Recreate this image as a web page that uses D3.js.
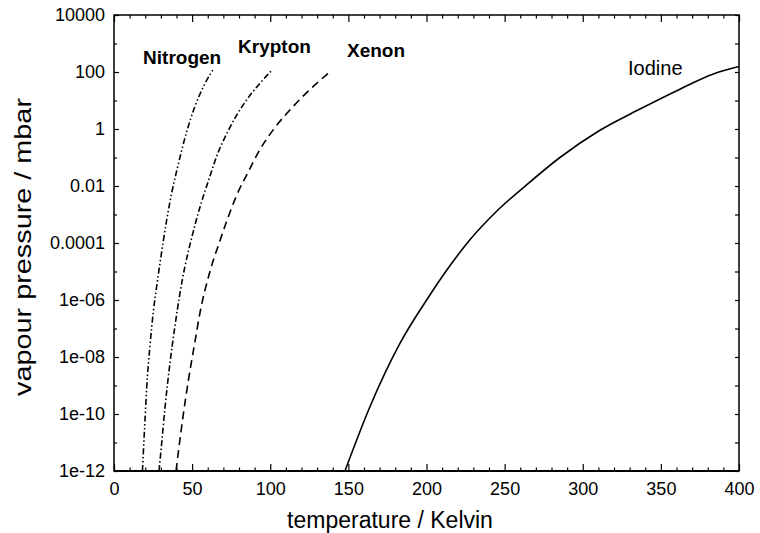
<!DOCTYPE html>
<html>
<head>
<meta charset="utf-8">
<script src="https://cdn.jsdelivr.net/npm/d3@7/dist/d3.min.js"></script>
<style>
  body { margin: 0; background: #fff; }
  text { font-family: "Liberation Sans", Arial, Helvetica, sans-serif; fill: #000; }
</style>
</head>
<body>
<svg id="chart" width="760" height="533"></svg>
<script>
// temperature (K) / vapour pressure (mbar)
const nitrogenT = [18.2, 19.8, 20.9, 23.0, 25.2, 27.3, 29.4, 33.7, 36.9, 41.2, 46.5, 51.8, 58.2, 63.6];
const nitrogenP = [1e-12, 5.6e-11, 8e-10, 2.4e-8, 4e-7, 3e-6, 1.9e-5, 6.3e-4, 5.6e-3, 6e-2, 0.8, 6.2, 39, 125];

const kryptonT = [28.8, 30.3, 32.6, 35.8, 39.0, 42.2, 45.4, 49.7, 55.0, 60.4, 65.7, 73.2, 82.8, 93.4, 101.6];
const kryptonP = [1e-12, 7e-12, 1.6e-10, 6e-9, 1.2e-7, 1.7e-6, 1.5e-5, 1.5e-4, 1.8e-3, 1.5e-2, 0.11, 0.89, 7.2, 40, 123];

const xenonT = [39.7, 41.2, 44.4, 47.6, 51.8, 55.0, 61.4, 67.8, 72.1, 78.5, 86.0, 93.4, 102.0, 114.8, 129.7, 139.3];
const xenonP = [1e-12, 4.7e-12, 1e-10, 1.5e-9, 3.4e-8, 3.5e-7, 1e-5, 1.2e-4, 5.8e-4, 4.7e-3, 3.2e-2, 0.19, 0.95, 6.3, 40, 112];

const iodineT = [147.8, 163.8, 183.0, 200.1, 212.9, 227.8, 244.9, 264.1, 285.4, 311.0, 336.6, 362.2, 383.6, 400];
const iodineP = [1e-12, 1.8e-10, 3e-8, 1e-6, 1.1e-5, 1.3e-4, 1.3e-3, 1.1e-2, 0.1, 0.9, 5, 25, 85, 155];

const seriesNames = ["Nitrogen", "Krypton", "Xenon", "Iodine"];
const labelT = [18.6, 79.4, 149.1, 329];
const labelP = [190, 470, 340, 78];

const xTicks = [0, 50, 100, 150, 200, 250, 300, 350, 400];
const yTicks = [1e4, 1e2, 1, 1e-2, 1e-4, 1e-6, 1e-8, 1e-10, 1e-12];
const yTickLabels = ["10000", "100", "1", "0.01", "0.0001", "1e-06", "1e-08", "1e-10", "1e-12"];
const yMinorTicks = [1e3, 10, 0.1, 1e-3, 1e-5, 1e-7, 1e-9, 1e-11];

const series = [
    {name: seriesNames[0], T: nitrogenT, P: nitrogenP, dash: "6,2.5,1.5,2.5,1.5,2.5", bold: true},
    {name: seriesNames[1], T: kryptonT, P: kryptonP, dash: "6,2.5,1.5,2.5", bold: true},
    {name: seriesNames[2], T: xenonT, P: xenonP, dash: "8,5", bold: true},
    {name: seriesNames[3], T: iodineT, P: iodineP, dash: null, bold: false}
];

const width = 760, height = 533;
const margin = {top: 15, right: 21, bottom: 62, left: 114};

const svg = d3.select("#chart");

const x = d3.scaleLinear()
    .domain([0, 400])
    .range([margin.left, width - margin.right]);

const y = d3.scaleLog()
    .domain([1e-12, 1e4])
    .range([height - margin.bottom, margin.top]);

const xMinor = d3.range(0, 401, 10).filter(d => d % 50 !== 0);
const yDecades = yTicks.concat(yMinorTicks);

// bottom axis, ticks pointing into the plot
svg.append("g")
    .attr("transform", `translate(0,${y(1e-12)})`)
    .call(d3.axisBottom(x).tickValues(xTicks).tickSize(-7).tickPadding(11).tickSizeOuter(0))
    .call(g => g.select(".domain").remove())
    .call(g => g.selectAll("text").style("font-size", "18px"));

svg.append("g")
    .attr("transform", `translate(0,${y(1e-12)})`)
    .call(d3.axisBottom(x).tickValues(xMinor).tickSize(-3.5).tickFormat(() => ""))
    .call(g => g.select(".domain").remove());

// top axis
svg.append("g")
    .attr("transform", `translate(0,${y(1e4)})`)
    .call(d3.axisTop(x).tickValues(xTicks).tickSize(-7).tickFormat(() => ""))
    .call(g => g.select(".domain").remove());

svg.append("g")
    .attr("transform", `translate(0,${y(1e4)})`)
    .call(d3.axisTop(x).tickValues(xMinor).tickSize(-3.5).tickFormat(() => ""))
    .call(g => g.select(".domain").remove());

// left axis
svg.append("g")
    .attr("transform", `translate(${x(0)},0)`)
    .call(d3.axisLeft(y).tickValues(yTicks).tickSize(-5).tickPadding(9)
        .tickFormat((d, i) => yTickLabels[i]))
    .call(g => g.select(".domain").remove())
    .call(g => g.selectAll("text").style("font-size", "18px"));

svg.append("g")
    .attr("transform", `translate(${x(0)},0)`)
    .call(d3.axisLeft(y).tickValues(yMinorTicks).tickSize(-3).tickFormat(() => ""))
    .call(g => g.select(".domain").remove());

// right axis
svg.append("g")
    .attr("transform", `translate(${x(400)},0)`)
    .call(d3.axisRight(y).tickValues(yDecades).tickSize(-4).tickFormat(() => ""))
    .call(g => g.select(".domain").remove());

svg.selectAll(".tick line").attr("stroke", "#000").attr("stroke-width", 1.2);

// frame
svg.append("rect")
    .attr("x", x(0))
    .attr("y", y(1e4))
    .attr("width", x(400) - x(0))
    .attr("height", y(1e-12) - y(1e4))
    .attr("fill", "none")
    .attr("stroke", "#000")
    .attr("stroke-width", 1.5);

svg.append("line")
    .attr("x1", x(0)).attr("x2", x(400))
    .attr("y1", y(1e-12)).attr("y2", y(1e-12))
    .attr("stroke", "#000")
    .attr("stroke-width", 2);

// curves
const line = d3.line()
    .x(d => x(d[0]))
    .y(d => y(d[1]))
    .curve(d3.curveMonotoneX);

series.forEach(s => {
    svg.append("path")
        .datum(s.T.map((t, i) => [t, s.P[i]]))
        .attr("fill", "none")
        .attr("stroke", "#000")
        .attr("stroke-width", 1.6)
        .attr("stroke-dasharray", s.dash)
        .attr("d", line);
});

// curve labels
svg.append("g")
    .selectAll("text")
    .data(series)
    .join("text")
    .attr("x", (d, i) => x(labelT[i]))
    .attr("y", (d, i) => y(labelP[i]))
    .style("font-size", d => d.bold ? "19px" : "20px")
    .style("font-weight", d => d.bold ? "bold" : "normal")
    .text(d => d.name);

// axis titles
svg.append("text")
    .attr("x", 390)
    .attr("y", 528)
    .attr("text-anchor", "middle")
    .style("font-size", "23px")
    .text("temperature / Kelvin");

svg.append("text")
    .attr("transform", `translate(31,${(y(1e4) + y(1e-12)) / 2 + 4}) rotate(-90)`)
    .attr("text-anchor", "middle")
    .attr("textLength", 298)
    .attr("lengthAdjust", "spacingAndGlyphs")
    .style("font-size", "24px")
    .text("vapour pressure / mbar");
</script>
</body>
</html>
